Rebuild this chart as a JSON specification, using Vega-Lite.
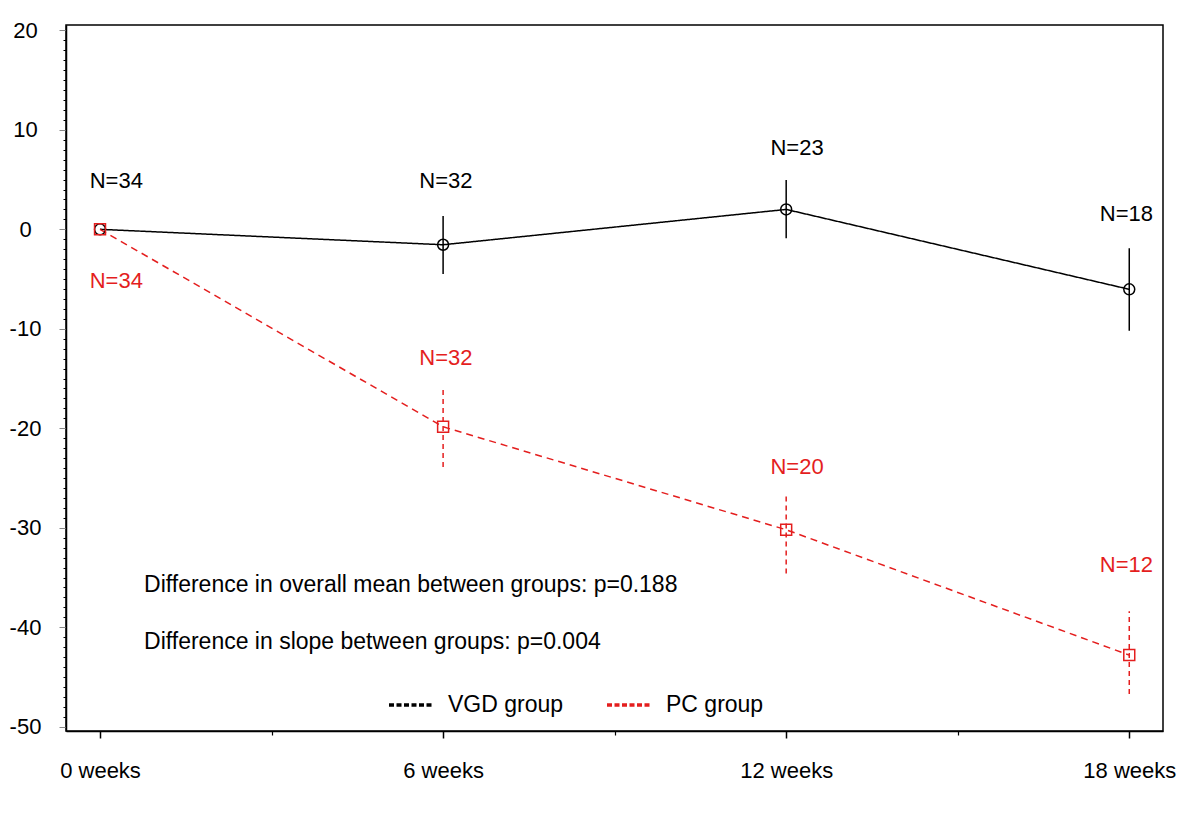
{
  "$schema": "https://vega.github.io/schema/vega-lite/v6.json",
  "autosize": {"type": "none"},
  "width": 1097,
  "height": 706,
  "padding": {"left": 66, "top": 25, "right": 37, "bottom": 85},
  "background": "white",
  "config": {
    "font": "Liberation Sans",
    "view": {"stroke": "black", "strokeWidth": 1.5},
    "axis": {"grid": false, "domainColor": "black", "tickColor": "black", "labelColor": "black", "labelFont": "Liberation Sans", "labelFontSize": 22}
  },
  "datasets": {
    "stats": [
      {"group": "VGD group", "week": 0, "mean": 0, "lo": null, "hi": null},
      {"group": "VGD group", "week": 6, "mean": -1.55, "lo": -4.5, "hi": 1.35},
      {"group": "VGD group", "week": 12, "mean": 2.0, "lo": -0.9, "hi": 4.95},
      {"group": "VGD group", "week": 18, "mean": -6.03, "lo": -10.2, "hi": -1.9},
      {"group": "PC group", "week": 0, "mean": 0, "lo": null, "hi": null},
      {"group": "PC group", "week": 6, "mean": -19.85, "lo": -23.9, "hi": -16.0},
      {"group": "PC group", "week": 12, "mean": -30.2, "lo": -34.6, "hi": -26.5},
      {"group": "PC group", "week": 18, "mean": -42.8, "lo": -46.7, "hi": -38.4}
    ],
    "nlabels": [
      {"group": "VGD group", "week": 0.285, "value": 4.85, "text": "N=34"},
      {"group": "VGD group", "week": 6.05, "value": 4.82, "text": "N=32"},
      {"group": "VGD group", "week": 12.19, "value": 8.2, "text": "N=23"},
      {"group": "VGD group", "week": 17.95, "value": 1.54, "text": "N=18"},
      {"group": "PC group", "week": 0.285, "value": -5.18, "text": "N=34"},
      {"group": "PC group", "week": 6.05, "value": -12.9, "text": "N=32"},
      {"group": "PC group", "week": 12.19, "value": -23.86, "text": "N=20"},
      {"group": "PC group", "week": 17.95, "value": -33.7, "text": "N=12"}
    ],
    "notes": [
      {"week": 0.77, "value": -35.8, "text": "Difference in overall mean between groups: p=0.188"},
      {"week": 0.77, "value": -41.45, "text": "Difference in slope between groups: p=0.004"}
    ]
  },
  "resolve": {"axis": {"x": "independent", "y": "independent"}},
  "layer": [
    {
      "data": {"name": "stats"},
      "mark": {"type": "line", "strokeWidth": 1.5},
      "encoding": {
        "x": {
          "field": "week", "type": "quantitative",
          "scale": {"domain": [-0.595, 18.59], "nice": false, "zero": false},
          "axis": {
            "orient": "bottom",
            "title": null,
            "values": [0, 6, 12, 18],
            "tickSize": 7,
            "labelExpr": "datum.value + ' weeks'",
            "labelPadding": 22,
            "labelOverlap": false,
            "domainWidth": 1.5,
            "tickWidth": 1.5
          }
        },
        "y": {
          "field": "mean", "type": "quantitative",
          "scale": {"domain": [-50.43, 20.54], "nice": false, "zero": false},
          "axis": {
            "orient": "left",
            "title": null,
            "values": [-50, -40, -30, -20, -10, 0, 10, 20],
            "tickSize": 7,
            "tickColor": "#888888",
            "labelExpr": "replace(datum.label, '\u2212', '-')",
            "labelAlign": "center",
            "labelPadding": 34,
            "labelOverlap": false,
            "domainWidth": 1.5
          }
        },
        "color": {
          "field": "group", "type": "nominal",
          "scale": {"domain": ["VGD group", "PC group"], "range": ["black", "#e41e1e"]},
          "legend": {
            "title": null,
            "orient": "none",
            "legendX": 321,
            "legendY": 656,
            "direction": "horizontal",
            "symbolType": "stroke",
            "symbolSize": 1936,
            "symbolStrokeWidth": 3.5,
            "symbolDash": [5, 2.5],
            "labelFontSize": 23,
            "labelColor": "black",
            "labelOffset": 13,
            "columnPadding": 36,
            "padding": 0
          }
        },
        "strokeDash": {
          "condition": {"test": "datum.group === 'PC group'", "value": [7, 5]},
          "value": [1, 0]
        }
      }
    },
    {
      "data": {"name": "stats"},
      "mark": {"type": "rule", "strokeWidth": 1.5},
      "encoding": {
        "x": {
          "field": "week", "type": "quantitative",
          "axis": {"orient": "bottom", "title": null, "values": [3, 9, 15], "tickSize": 4, "labels": false, "domain": false, "tickWidth": 1.2}
        },
        "y": {
          "field": "lo", "type": "quantitative",
          "axis": {
            "orient": "left", "title": null, "labels": false, "domain": false, "tickSize": 3,
            "values": [-49,-48,-47,-46,-45,-44,-43,-42,-41,-39,-38,-37,-36,-35,-34,-33,-32,-31,-29,-28,-27,-26,-25,-24,-23,-22,-21,-19,-18,-17,-16,-15,-14,-13,-12,-11,-9,-8,-7,-6,-5,-4,-3,-2,-1,1,2,3,4,5,6,7,8,9,11,12,13,14,15,16,17,18,19]
          }
        },
        "y2": {"field": "hi"},
        "color": {"condition": {"test": "datum.group === 'PC group'", "value": "#e41e1e"}, "value": "black"},
        "strokeDash": {"condition": {"test": "datum.group === 'PC group'", "value": [5, 4]}, "value": [1, 0]}
      }
    },
    {
      "data": {"name": "stats"},
      "mark": {"type": "point", "filled": false, "strokeWidth": 1.5, "opacity": 1, "size": 120},
      "encoding": {
        "x": {"field": "week", "type": "quantitative", "axis": null},
        "y": {"field": "mean", "type": "quantitative", "axis": null},
        "color": {"condition": {"test": "datum.group === 'PC group'", "value": "#e41e1e"}, "value": "black"},
        "shape": {"condition": {"test": "datum.group === 'PC group'", "value": "square"}, "value": "circle"}
      }
    },
    {
      "data": {"name": "nlabels"},
      "mark": {"type": "text", "fontSize": 22, "align": "center", "baseline": "middle"},
      "encoding": {
        "x": {"field": "week", "type": "quantitative", "axis": null},
        "y": {"field": "value", "type": "quantitative", "axis": null},
        "text": {"field": "text"},
        "color": {"condition": {"test": "datum.group === 'PC group'", "value": "#e41e1e"}, "value": "black"}
      }
    },
    {
      "data": {"name": "notes"},
      "mark": {"type": "text", "fontSize": 23, "align": "left", "baseline": "middle", "color": "black"},
      "encoding": {
        "x": {"field": "week", "type": "quantitative", "axis": null},
        "y": {"field": "value", "type": "quantitative", "axis": null},
        "text": {"field": "text"}
      }
    }
  ]
}
